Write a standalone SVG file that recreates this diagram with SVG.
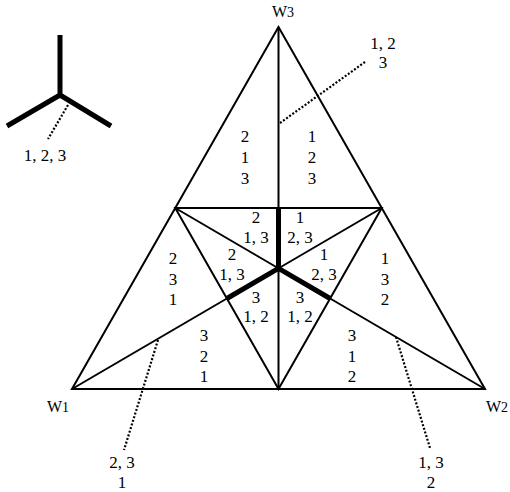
<svg xmlns="http://www.w3.org/2000/svg" width="510" height="492" viewBox="0 0 510 492">
<style>
.ln{stroke:#000;stroke-width:2;fill:none;stroke-linejoin:miter}
.thick{stroke:#000;stroke-width:5;fill:none;stroke-linecap:butt}
.dot{stroke:#000;stroke-width:2.2;fill:none;stroke-dasharray:2 1.8}
text{font-family:"Liberation Serif","Times New Roman",serif;font-size:17px;fill:#000;text-anchor:middle}
.w{font-size:16px;text-anchor:start}
.sub{font-size:14px}
</style>
<rect width="510" height="492" fill="#fff"/>
<g id="legend">
<path class="thick" d="M60 35 L60 95 M60 95 L7 126 M60 95 L111 126"/>
<line class="dot" x1="68" y1="105" x2="48" y2="139"/>
<text x="45" y="161">1, 2, 3</text>
</g>
<g id="connectors">
<polygon class="ln" points="278.5,27 72,389 485,389"/>
<polygon class="ln" points="175.25,208 381.75,208 278.5,389"/>
<line class="ln" x1="278.5" y1="27" x2="278.5" y2="389"/>
<line class="ln" x1="72" y1="389" x2="381.75" y2="208"/>
<line class="ln" x1="485" y1="389" x2="175.25" y2="208"/>
<path class="thick" d="M278.5 208 L278.5 268.3 M278.5 268.3 L226.9 298.5 M278.5 268.3 L330.1 298.5"/>
<line class="dot" x1="280" y1="123" x2="365" y2="62"/>
<line class="dot" x1="158" y1="340" x2="124" y2="450"/>
<line class="dot" x1="396" y1="337" x2="430" y2="448"/>
</g>
<g id="vertex-labels">
<text class="w" x="272" y="17">W<tspan class="sub">3</tspan></text>
<text class="w" x="47" y="412">W<tspan class="sub">1</tspan></text>
<text class="w" x="486" y="412">W<tspan class="sub">2</tspan></text>
</g>
<g id="region-top-left"><text x="245" y="142">2</text><text x="245" y="163">1</text><text x="245" y="184">3</text></g>
<g id="region-top-right"><text x="312" y="142">1</text><text x="312" y="163">2</text><text x="312" y="184">3</text></g>
<g id="region-left"><text x="173" y="264">2</text><text x="173" y="285">3</text><text x="173" y="305">1</text></g>
<g id="region-right"><text x="385" y="264">1</text><text x="385" y="285">3</text><text x="385" y="305">2</text></g>
<g id="region-bottom-left"><text x="204" y="341">3</text><text x="204" y="362">2</text><text x="204" y="382">1</text></g>
<g id="region-bottom-right"><text x="352" y="341">3</text><text x="352" y="362">1</text><text x="352" y="382">2</text></g>
<g id="inner-top-left"><text x="256" y="223">2</text><text x="256" y="243">1, 3</text></g>
<g id="inner-top-right"><text x="300" y="223">1</text><text x="300" y="243">2, 3</text></g>
<g id="inner-mid-left"><text x="232" y="260">2</text><text x="232" y="280">1, 3</text></g>
<g id="inner-mid-right"><text x="324" y="260">1</text><text x="324" y="280">2, 3</text></g>
<g id="inner-bottom-left"><text x="256" y="303">3</text><text x="256" y="322">1, 2</text></g>
<g id="inner-bottom-right"><text x="300" y="303">3</text><text x="300" y="322">1, 2</text></g>
<g id="annot-top"><text x="383" y="49">1, 2</text><text x="383" y="68">3</text></g>
<g id="annot-bottom-left"><text x="122" y="468">2, 3</text><text x="122" y="488">1</text></g>
<g id="annot-bottom-right"><text x="431" y="468">1, 3</text><text x="431" y="488">2</text></g>
</svg>
